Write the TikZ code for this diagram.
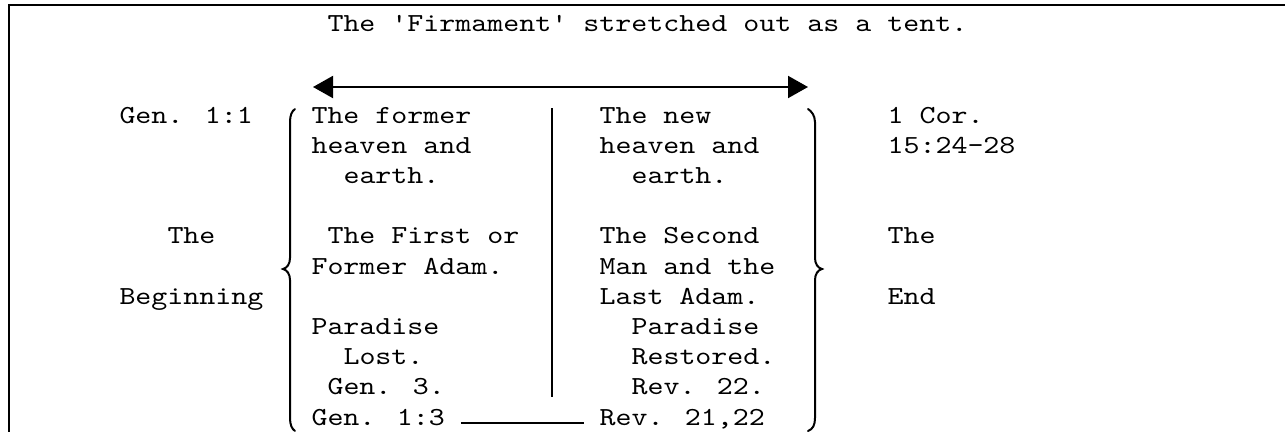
\documentclass[tikz,border=0pt]{standalone}
\usepackage{fontspec}
\newfontfamily\courfont{lmmono10-regular}[Extension=.otf,FakeStretch=1.172]
\usetikzlibrary{arrows.meta}
\begin{document}
\begin{tikzpicture}[x=1pt,y=-1pt,
  txt/.style={anchor=base west,inner sep=0pt,outer sep=0pt,font=\courfont\fontsize{26}{30.2}\selectfont},
  rule/.style={line width=2pt,black},
  frame/.style={line width=2.6pt,black},
  brace/.style={line width=2pt,black,line cap=round}]
\useasboundingbox (0,0) rectangle (1285,432);
% frame
\coordinate (fTR) at (1285,5);
\coordinate (fTL) at (9,5);
\coordinate (fBL) at (9,432);
\draw[frame] (fTR) -- (fTL) -- (fBL);
% title
\node[txt] (title) at (327.5,31) {The 'Firmament' stretched out as a tent.};
% arrow
\coordinate (arrL) at (313,87);
\coordinate (arrR) at (808,87);
\draw[rule,{Triangle[length=20pt,width=22pt]}-{Triangle[length=20pt,width=22pt]}] (arrL) -- (arrR);
% left labels
\node[txt] (gen11) at (119.5,123) {Gen. 1:1};
\node[txt] (theL) at (167.5,243.8) {The};
\node[txt] (begin) at (119.5,304.2) {Beginning};
% right labels
\node[txt] (cor1) at (887.5,123) {1 Cor.};
\node[txt] (cor2) at (887.5,153.2) {15:24-28};
\node[txt] (theR) at (887.5,243.8) {The};
\node[txt] (endR) at (887.5,304.2) {End};
% column 1
\node[txt] (a0) at (311.5,123) {The former};
\node[txt] (a1) at (311.5,153.2) {heaven and};
\node[txt] (a2) at (343.5,183.4) {earth.};
\node[txt] (a4) at (327.5,243.8) {The First or};
\node[txt] (a5) at (311.5,274) {Former Adam.};
\node[txt] (a7) at (311.5,334.4) {Paradise};
\node[txt] (a8) at (343.5,364.6) {Lost.};
\node[txt] (a9) at (327.5,394.8) {Gen. 3.};
\node[txt] (a10) at (311.5,425) {Gen. 1:3};
% column 2
\node[txt] (b0) at (599.5,123) {The new};
\node[txt] (b1) at (599.5,153.2) {heaven and};
\node[txt] (b2) at (631.5,183.4) {earth.};
\node[txt] (b4) at (599.5,243.8) {The Second};
\node[txt] (b5) at (599.5,274) {Man and the};
\node[txt] (b6) at (599.5,304.2) {Last Adam.};
\node[txt] (b7) at (631.5,334.4) {Paradise};
\node[txt] (b8) at (631.5,364.6) {Restored.};
\node[txt] (b9) at (631.5,394.8) {Rev. 22.};
\node[txt] (b10) at (599.5,425) {Rev. 21,22};
% bottom connecting line
\draw[rule] ([xshift=16pt,yshift=2pt]a10.base east) -- ([xshift=-16pt,yshift=2pt]b10.base west);
% divider
\coordinate (dT) at (552,108);
\coordinate (dB) at (552,397);
\draw[rule] (dT) -- (dB);
% left brace
\draw[brace] (295,109) .. controls (292,111) and (290,115) .. (290,122)
  -- (290,258) .. controls (290,264) and (287,268) .. (283,269)
  .. controls (287,270) and (290,274) .. (290,280)
  -- (290,418) .. controls (290,425) and (292,429) .. (295,431);
% right brace
\draw[brace] (808,109) .. controls (811,111) and (815,115) .. (815,122)
  -- (815,258) .. controls (815,264) and (818,268) .. (822,269)
  .. controls (818,270) and (815,274) .. (815,280)
  -- (815,418) .. controls (815,425) and (813,429) .. (808,431);
\end{tikzpicture}
\end{document}
